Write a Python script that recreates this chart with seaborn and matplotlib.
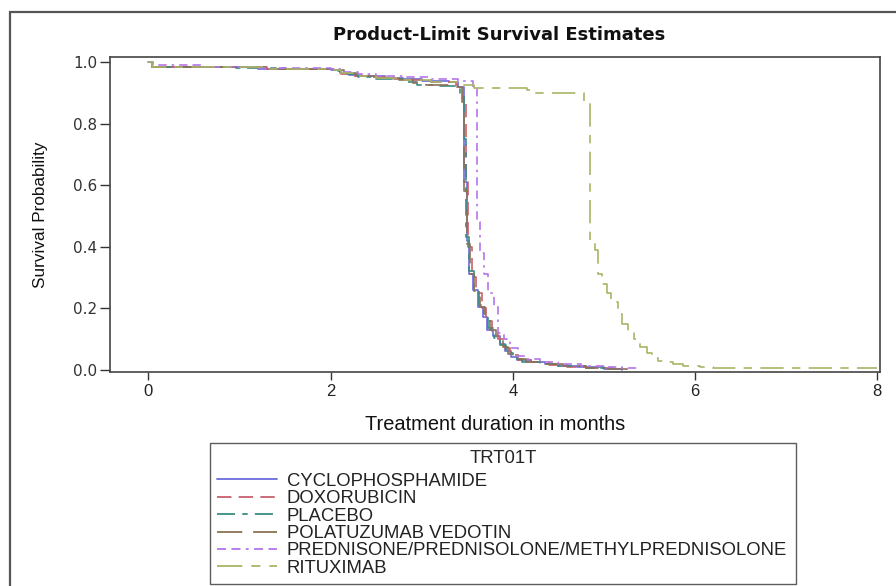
import matplotlib
matplotlib.use("Agg")
import matplotlib.pyplot as plt
import matplotlib.patches as mpatches
import seaborn as sns
import pandas as pd
from matplotlib import font_manager

# ---------------- data ----------------
treatments = ["CYCLOPHOSPHAMIDE", "DOXORUBICIN", "PLACEBO",
              "POLATUZUMAB VEDOTIN",
              "PREDNISONE/PREDNISOLONE/METHYLPREDNISOLONE", "RITUXIMAB"]

cyc_t = [0, 0.04, 0.7, 1.2, 2.0, 2.1, 2.2, 2.35, 2.6, 2.8, 3.0, 3.3, 3.40, 3.46, 3.50, 3.52,
         3.56, 3.62, 3.67, 3.72, 3.78, 3.86, 3.92, 3.98, 4.05, 4.2, 4.35, 4.5, 4.7, 5.0, 5.2]
cyc_s = [1.0, 0.985, 0.982, 0.978, 0.975, 0.965, 0.958, 0.953, 0.948, 0.943, 0.938, 0.934, 0.92,
         0.61, 0.42, 0.31, 0.26, 0.205, 0.17, 0.13, 0.11, 0.085, 0.06, 0.042, 0.032, 0.026,
         0.02, 0.013, 0.008, 0.004, 0.0]

dox_t = [0, 0.04, 0.8, 1.3, 2.05, 2.12, 2.25, 2.45, 2.7, 2.9, 3.1, 3.38, 3.45, 3.49, 3.51,
         3.55, 3.60, 3.66, 3.71, 3.77, 3.84, 3.91, 3.97, 4.06, 4.2, 4.4, 4.6, 4.8, 5.1]
dox_s = [1.0, 0.985, 0.982, 0.977, 0.972, 0.962, 0.955, 0.95, 0.946, 0.94, 0.936, 0.925, 0.88,
         0.61, 0.40, 0.30, 0.25, 0.20, 0.16, 0.125, 0.10, 0.07, 0.048, 0.033, 0.025, 0.017,
         0.01, 0.005, 0.0]

pla_t = [0, 0.04, 0.9, 1.5, 2.08, 2.18, 2.3, 2.5, 2.8, 2.95, 3.2, 3.42, 3.46, 3.49, 3.52,
         3.57, 3.63, 3.68, 3.73, 3.79, 3.86, 3.93, 4.0, 4.1, 4.3, 4.5, 4.8, 5.1]
pla_s = [1.0, 0.985, 0.981, 0.977, 0.972, 0.96, 0.952, 0.945, 0.935, 0.925, 0.922, 0.90,
         0.75, 0.43, 0.32, 0.26, 0.21, 0.175, 0.135, 0.105, 0.08, 0.055, 0.036, 0.026, 0.018,
         0.011, 0.005, 0.0]

pol_t = [0, 0.04, 0.75, 1.4, 2.02, 2.15, 2.28, 2.5, 2.75, 2.9, 3.05, 3.35, 3.44, 3.47, 3.50,
         3.53, 3.58, 3.64, 3.69, 3.75, 3.82, 3.89, 3.95, 4.02, 4.15, 4.35, 4.55, 4.8, 5.05, 5.25]
pol_s = [1.0, 0.985, 0.982, 0.977, 0.973, 0.963, 0.955, 0.948, 0.94, 0.93, 0.925, 0.92, 0.87,
         0.58, 0.41, 0.31, 0.255, 0.205, 0.165, 0.13, 0.10, 0.075, 0.05, 0.035, 0.027, 0.019,
         0.012, 0.007, 0.003, 0.0]

pre_t = [0, 0.05, 0.6, 1.2, 2.0, 2.15, 2.3, 2.5, 2.8, 3.1, 3.4, 3.56, 3.61, 3.64, 3.68, 3.73,
         3.79, 3.84, 3.90, 3.97, 4.06, 4.15, 4.3, 4.5, 4.75, 5.0, 5.2, 5.37]
pre_s = [1.0, 0.99, 0.985, 0.98, 0.977, 0.967, 0.96, 0.955, 0.95, 0.944, 0.938, 0.92, 0.48,
         0.38, 0.31, 0.25, 0.205, 0.12, 0.10, 0.07, 0.045, 0.034, 0.026, 0.019, 0.012, 0.008,
         0.005, 0.004]

rit_t = [0, 0.04, 0.7, 1.3, 2.0, 2.12, 2.25, 2.5, 2.8, 3.1, 3.45, 3.57, 4.16, 4.23, 4.78,
         4.85, 4.90, 4.94, 4.98, 5.03, 5.08, 5.15, 5.2, 5.27, 5.33, 5.4, 5.47, 5.53, 5.59,
         5.65, 5.76, 5.87, 6.06, 6.2, 8.0]
rit_s = [1.0, 0.985, 0.982, 0.977, 0.973, 0.963, 0.955, 0.948, 0.942, 0.935, 0.925, 0.915,
         0.908, 0.899, 0.87, 0.42, 0.39, 0.31, 0.28, 0.25, 0.22, 0.18, 0.15, 0.12, 0.10,
         0.075, 0.055, 0.04, 0.03, 0.024, 0.018, 0.013, 0.008, 0.005, 0.005]

series = {
    treatments[0]: (cyc_t, cyc_s),
    treatments[1]: (dox_t, dox_s),
    treatments[2]: (pla_t, pla_s),
    treatments[3]: (pol_t, pol_s),
    treatments[4]: (pre_t, pre_s),
    treatments[5]: (rit_t, rit_s),
}

rows = []
for trt, (ts, ss) in series.items():
    for t, s in zip(ts, ss):
        rows.append({"time": t, "surv": s, "TRT01T": trt})
df = pd.DataFrame(rows)

colors = ["#6b6bdc", "#c8606c", "#3a8c82", "#8c7256", "#b475ea", "#a8b466"]
dash_styles = ["", (8, 4), (10, 4, 3, 4), (14, 6), (5, 3, 5, 3, 1.5, 3), (14, 5, 5, 5)]
palette = dict(zip(treatments, colors))
dashes = dict(zip(treatments, dash_styles))

# ---------------- style ----------------
sns.set_theme(style="white")
avail = {f.name for f in font_manager.fontManager.ttflist}
base_font = "Liberation Sans" if "Liberation Sans" in avail else "DejaVu Sans"
narrow_font = "Liberation Sans Narrow" if "Liberation Sans Narrow" in avail else base_font
plt.rcParams["font.family"] = [base_font, "DejaVu Sans"]

fig = plt.figure(figsize=(8.96, 5.86), dpi=100)
ax = fig.add_axes([110 / 896, 1 - 372 / 586, 770 / 896, 315 / 586])

sns.lineplot(data=df, x="time", y="surv", hue="TRT01T", style="TRT01T",
             hue_order=treatments, style_order=treatments,
             palette=palette, dashes=dashes, drawstyle="steps-post",
             estimator=None, linewidth=1.2, ax=ax, legend=True)

ax.set_xlim(-0.42, 8.03)
ax.set_ylim(-0.007, 1.016)
ax.set_xticks([0, 2, 4, 6, 8])
ax.set_yticks([0.0, 0.2, 0.4, 0.6, 0.8, 1.0])
ax.set_yticklabels(["0.0", "0.2", "0.4", "0.6", "0.8", "1.0"],
                   fontsize=11, family="DejaVu Sans", color="#333333")
ax.set_xticklabels(["0", "2", "4", "6", "8"], fontsize=12,
                   family=[narrow_font, "DejaVu Sans"], color="#222222")
ax.tick_params(axis="y", direction="out", length=7, width=1.0, color="#333333",
               left=True, pad=2)
ax.tick_params(axis="x", direction="out", length=6, width=1.0, color="#333333",
               bottom=True, pad=3)
for sp in ax.spines.values():
    sp.set_color("#444444")
    sp.set_linewidth(1.2)

ax.set_xlabel("Treatment duration in months", fontsize=14.4,
              family=[narrow_font, "DejaVu Sans"], color="#111111", labelpad=11.5)
ax.set_ylabel("Survival Probability", fontsize=12.3, color="#111111", labelpad=18)

fig.text(499 / 896, 1 - 35 / 586, "Product-Limit Survival Estimates",
         ha="center", va="center", fontsize=13, fontweight="bold",
         family="DejaVu Sans", color="#111111")

# legend
leg_old = ax.get_legend()
handles, labels = ax.get_legend_handles_labels()
if leg_old is not None:
    leg_old.remove()
leg = fig.legend(handles, labels, title="TRT01T",
                 loc="upper left",
                 bbox_to_anchor=(210 / 896, 1 - 443 / 586, 586 / 896, 0.0),
                 bbox_transform=fig.transFigure, mode="expand",
                 prop={"family": base_font, "size": 13.3},
                 title_fontproperties={"family": base_font, "size": 13.3},
                 handlelength=3.2, handletextpad=0.55, labelspacing=0.02,
                 borderpad=0.4, borderaxespad=0.0, fancybox=False,
                 frameon=True, edgecolor="#333333", alignment="center")
leg._legend_box.sep = 4
leg.get_frame().set_linewidth(1.0)
for line in leg.get_lines():
    line.set_linewidth(1.3)
for txt in leg.get_texts():
    txt.set_color("#222222")

# outer frame
frame = mpatches.Rectangle((10 / 896, -0.05), 1.2, 1 - 12 / 586 + 0.05,
                           transform=fig.transFigure, fill=False,
                           edgecolor="#555555", linewidth=1.6, zorder=0)
fig.patches.append(frame)

fig.savefig("out.png", dpi=100)
